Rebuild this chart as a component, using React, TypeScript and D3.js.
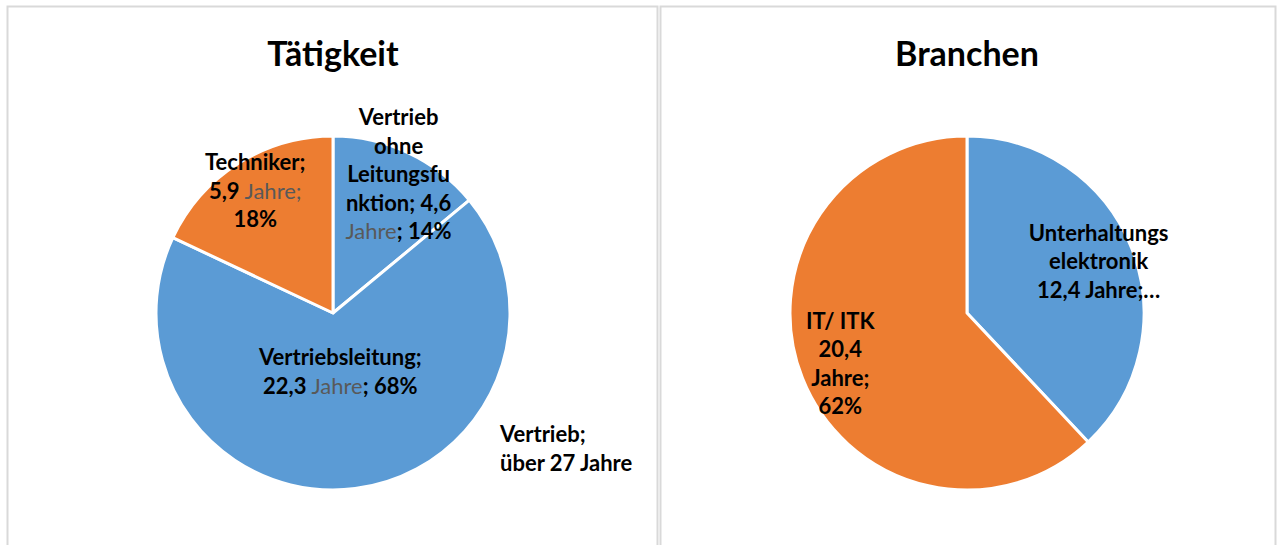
import * as d3 from 'd3';

// Tätigkeit (left pie)
const jobNames = ['Vertrieb ohne Leitungsfunktion', 'Vertriebsleitung', 'Techniker'];
const jobYears = ['4,6', '22,3', '5,9'];
const jobShares = [14, 68, 18];

// Branchen (right pie)
const branchNames = ['Unterhaltungselektronik', 'IT/ ITK'];
const branchYears = ['12,4', '20,4'];
const branchShares = [38, 62];

const titles = ['Tätigkeit', 'Branchen'];
const totalNote = ['Vertrieb;', 'über 27 Jahre'];

const BLUE = '#5B9BD5';
const ORANGE = '#ED7D31';
const GREY_TEXT = '#595959';
const FONT = 'Lato, "Open Sans", sans-serif';

const W = 1279;
const H = 545;
const R = 177;
const LINE = 28.5;
const LABEL_SIZE = 22;

type Seg = { t: string; bold?: boolean; grey?: boolean };
type Label = { lines: Seg[][]; rf: number };

// label lines the way the report wraps them
const jobLabels: Label[] = [
  {
    rf: 0.87,
    lines: [
      [{ t: 'Vertrieb', bold: true }],
      [{ t: 'ohne', bold: true }],
      [{ t: 'Leitungsfu', bold: true }],
      [{ t: `nktion; ${jobYears[0]}`, bold: true }],
      [{ t: 'Jahre', grey: true }, { t: `; ${jobShares[0]}%`, bold: true }]
    ]
  },
  {
    rf: 0.33,
    lines: [
      [{ t: `${jobNames[1]};`, bold: true }],
      [{ t: jobYears[1], bold: true }, { t: ' Jahre', grey: true }, { t: `; ${jobShares[1]}%`, bold: true }]
    ]
  },
  {
    rf: 0.82,
    lines: [
      [{ t: `${jobNames[2]};`, bold: true }],
      [{ t: jobYears[2], bold: true }, { t: ' Jahre;', grey: true }],
      [{ t: `${jobShares[2]}%`, bold: true }]
    ]
  }
];

const branchLabels: Label[] = [
  {
    rf: 0.8,
    lines: [
      [{ t: 'Unterhaltungs', bold: true }],
      [{ t: 'elektronik', bold: true }],
      [{ t: `${branchYears[0]} Jahre;…`, bold: true }]
    ]
  },
  {
    rf: 0.77,
    lines: [
      [{ t: branchNames[1], bold: true }],
      [{ t: branchYears[1], bold: true }],
      [{ t: 'Jahre;', bold: true }],
      [{ t: `${branchShares[1]}%`, bold: true }]
    ]
  }
];

function Pie({
  cx,
  cy,
  title,
  shares,
  colors,
  labels
}: {
  cx: number;
  cy: number;
  title: string;
  shares: number[];
  colors: string[];
  labels: Label[];
}) {
  const arcs = d3.pie<number>().sort(null).value((d) => d)(shares);
  const arc = d3.arc<d3.PieArcDatum<number>>().innerRadius(0).outerRadius(R);

  return (
    <g>
      <text
        x={cx}
        y={cy - 261}
        textAnchor="middle"
        dominantBaseline="central"
        fontFamily={FONT}
        fontWeight={700}
        fontSize={34}
        fill="#000"
      >
        {title}
      </text>
      <g transform={`translate(${cx},${cy})`}>
        {arcs.map((a, i) => (
          <path key={i} d={arc(a) || ''} fill={colors[i]} stroke="#fff" strokeWidth={3} strokeLinejoin="round" />
        ))}
        {arcs.map((a, i) => {
          const lab = labels[i];
          const mid = (a.startAngle + a.endAngle) / 2;
          const x = Math.sin(mid) * R * lab.rf;
          const y = -Math.cos(mid) * R * lab.rf;
          const y0 = y - ((lab.lines.length - 1) * LINE) / 2;
          return (
            <text
              key={i}
              x={x}
              y={y0}
              textAnchor="middle"
              fontFamily={FONT}
              fontSize={LABEL_SIZE}
              fill="#000"
            >
              {lab.lines.map((line, li) => (
                <tspan key={li} x={x} y={y0 + li * LINE} dominantBaseline="central">
                  {line.map((s, si) => (
                    <tspan key={si} fontWeight={s.bold ? 700 : 400} fill={s.grey ? GREY_TEXT : '#000'}>
                      {s.t}
                    </tspan>
                  ))}
                </tspan>
              ))}
            </text>
          );
        })}
      </g>
    </g>
  );
}

export default function App() {
  const leftCx = 333;
  const rightCx = 967;
  const cy = 313;

  return (
    <svg
      width={W}
      height={H}
      style={{ position: 'absolute', left: 0, top: 0, background: '#fff' }}
    >
      <rect x={0} y={0} width={W} height={H} fill="#fff" />
      {/* panel frames */}
      <rect x={7.5} y={6.5} width={650} height={600} fill="none" stroke="#d9d9d9" strokeWidth={2} />
      <rect x={660.5} y={6.5} width={615} height={600} fill="none" stroke="#d9d9d9" strokeWidth={2} />

      <Pie
        cx={leftCx}
        cy={cy}
        title={titles[0]}
        shares={jobShares}
        colors={[BLUE, BLUE, ORANGE]}
        labels={jobLabels}
      />
      <Pie
        cx={rightCx}
        cy={cy}
        title={titles[1]}
        shares={branchShares}
        colors={[BLUE, ORANGE]}
        labels={branchLabels}
      />

      {/* note beside the left pie */}
      <text x={leftCx + 167} y={433} fontFamily={FONT} fontWeight={700} fontSize={LABEL_SIZE} fill="#000">
        {totalNote.map((t, i) => (
          <tspan key={i} x={leftCx + 167} y={433 + i * 29} dominantBaseline="central">
            {t}
          </tspan>
        ))}
      </text>
    </svg>
  );
}
